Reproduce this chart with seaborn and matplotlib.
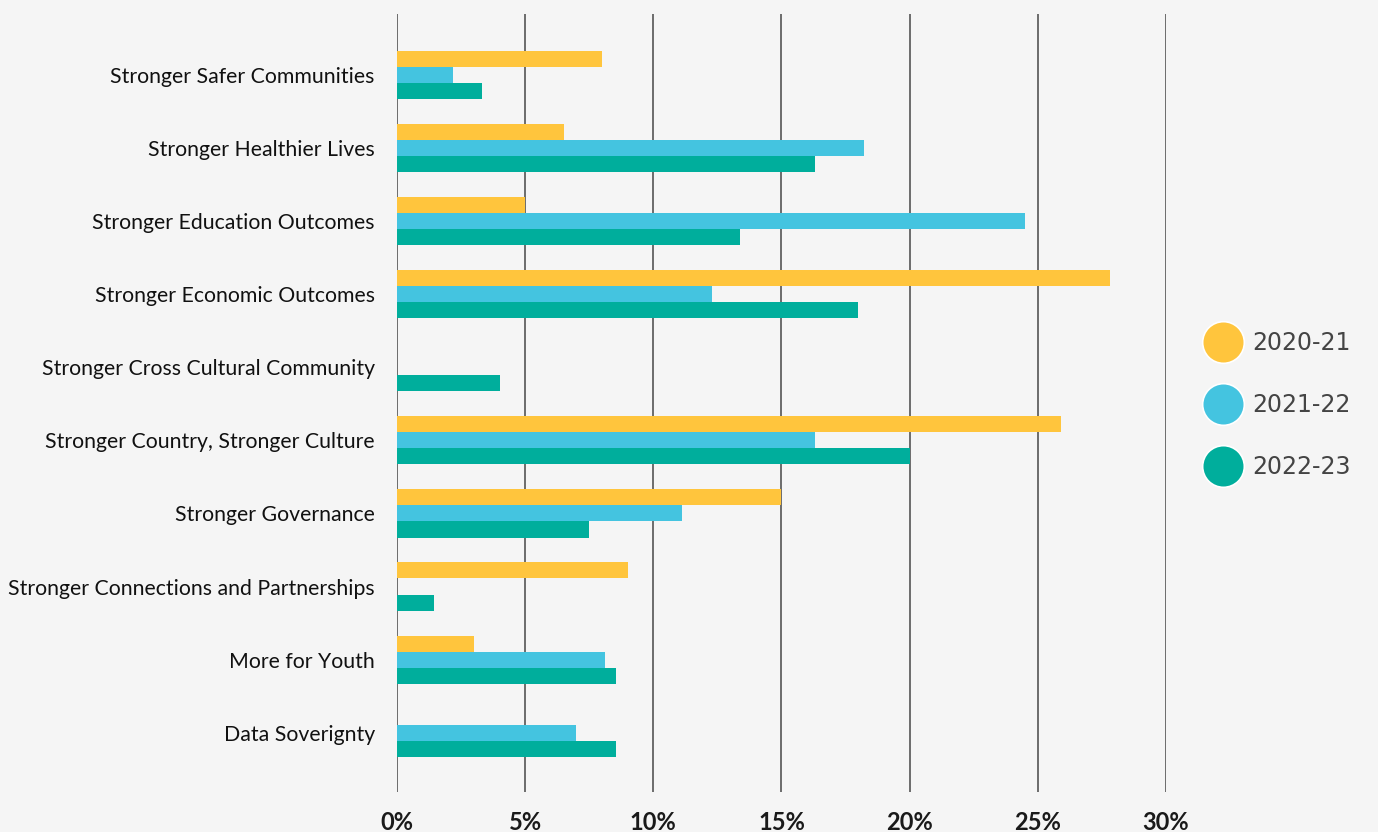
import matplotlib
matplotlib.use("Agg")
import matplotlib.pyplot as plt
import seaborn as sns
import pandas as pd
from matplotlib.lines import Line2D
from matplotlib.ticker import FuncFormatter

categories = [
    "Stronger Safer Communities",
    "Stronger Healthier Lives",
    "Stronger Education Outcomes",
    "Stronger Economic Outcomes",
    "Stronger Cross Cultural Community",
    "Stronger Country, Stronger Culture",
    "Stronger Governance",
    "Stronger Connections and Partnerships",
    "More for Youth",
    "Data Soverignty",
]
series_names = ["2020-21", "2021-22", "2022-23"]
v_2020_21 = [8.0, 6.5, 5.0, 27.8, 0.0, 25.9, 15.0, 9.0, 3.0, 0.0]
v_2021_22 = [2.2, 18.2, 24.5, 12.3, 0.0, 16.3, 11.1, 0.0, 8.1, 7.0]
v_2022_23 = [3.3, 16.3, 13.4, 18.0, 4.0, 20.0, 7.5, 1.45, 8.55, 8.55]
colors = ["#FFC53D", "#44C4E0", "#00AE9C"]
xticks = [0, 5, 10, 15, 20, 25, 30]

rows = []
for name, vals in zip(series_names, [v_2020_21, v_2021_22, v_2022_23]):
    for c, v in zip(categories, vals):
        rows.append({"category": c, "year": name, "value": v})
df = pd.DataFrame(rows)

sns.set_theme(style="white")
plt.rcParams["font.family"] = ["Lato", "DejaVu Sans"]
bg = "#F5F5F5"
fig = plt.figure(figsize=(13.78, 8.32), dpi=100, facecolor=bg)
ax = fig.add_axes([397 / 1378, 1 - 792 / 832, (1166 - 397) / 1378, (792 - 14) / 832])
ax.set_facecolor(bg)

sns.barplot(data=df, y="category", x="value", hue="year", order=categories,
            hue_order=series_names, palette=colors, orient="h", width=0.66,
            saturation=1, edgecolor="none", ax=ax, legend=False)

ax.set_xlim(0, 30)
ax.set_ylim(9.81, -0.83)
ax.set_xticks(xticks)
ax.xaxis.set_major_formatter(FuncFormatter(lambda v, p: f"{int(v)}%"))
for x in xticks:
    ax.axvline(x, color="#555555", lw=1.2, zorder=0)
for s in ax.spines.values():
    s.set_visible(False)
ax.set_xlabel("")
ax.set_ylabel("")
ax.tick_params(axis="x", length=0, pad=14, labelsize=17, labelcolor="#1a1a1a")
ax.tick_params(axis="y", length=0, pad=16, labelsize=15.3, labelcolor="#111111")
for lbl in ax.get_xticklabels():
    lbl.set_fontweight("bold")

handles = [Line2D([0], [0], marker="o", color="none", markerfacecolor=c,
                  markeredgecolor="white", markeredgewidth=1.2, markersize=30)
           for c in colors]
leg = fig.legend(handles, series_names, loc="center left",
                 bbox_to_anchor=(1183 / 1378, 1 - 405 / 832), frameon=False,
                 labelspacing=1.6, handletextpad=0.45, handlelength=1.6,
                 prop={"family": "DejaVu Sans", "size": 17, "weight": "medium"})
for t in leg.get_texts():
    t.set_color("#444444")

fig.savefig("out.png", dpi=100, facecolor=bg)
